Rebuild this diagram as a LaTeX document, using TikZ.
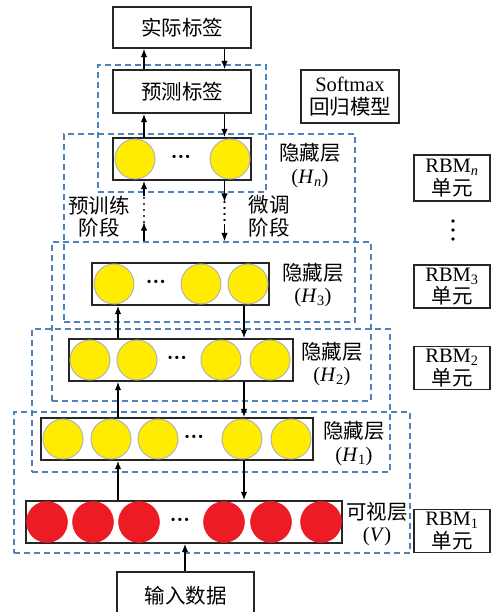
\documentclass[tikz,border=0pt]{standalone}
\usepackage{fontspec}
\setmainfont{Liberation Serif}
\newfontfamily\cjk{Noto Sans CJK SC}
\usetikzlibrary{arrows.meta}
\definecolor{dblue}{RGB}{79,129,189}
\definecolor{yel}{RGB}{255,236,0}
\definecolor{rd}{RGB}{237,28,36}
\begin{document}
\begin{tikzpicture}[x=1pt,y=-1pt,
  font=\fontsize{20.5}{22.5}\selectfont,
  box/.style={draw=black!85, line width=1.4pt, inner sep=0pt, align=center},
  dbox/.style={draw=dblue, line width=1.2pt, dash pattern=on 6pt off 4pt, inner sep=0pt},
  yc/.style={circle, fill=yel, draw=black!30, line width=1pt, minimum size=40pt, inner sep=0pt},
  rc/.style={circle, fill=rd, draw=rd, line width=0.5pt, minimum size=41pt, inner sep=0pt},
  dotsnode/.style={inner sep=0pt, font=\fontsize{20}{20}\selectfont\bfseries},
  arr/.style={line width=1.4pt, -{Latex[length=8.5pt,width=6.5pt]}},
  dotline/.style={line width=2.2pt, line cap=round, dash pattern=on 0.01pt off 6pt},
  lbl/.style={align=center, inner sep=0pt}]
\clip (0,0) rectangle (491,612);
% dashed groups
\node[dbox, minimum width=168pt, minimum height=127pt] (sm) at (182,128.5) {};
\node[dbox, minimum width=291pt, minimum height=188pt] (dn) at (209.5,228) {};
\node[dbox, minimum width=319pt, minimum height=159pt] (d3) at (211.5,321.5) {};
\node[dbox, minimum width=358pt, minimum height=143pt] (d2) at (211,400.5) {};
\node[dbox, minimum width=396pt, minimum height=141pt] (d1) at (212,482.5) {};
% top boxes
\node[box, minimum width=138pt, minimum height=41pt] (real) at (182,27.5) {\cjk 实际标签};
\node[box, minimum width=138pt, minimum height=43pt] (pred) at (182,91.5) {\cjk 预测标签};
\node[box, minimum width=137pt, minimum height=48pt] (inp) at (185.5,596) {\cjk 输入数据};
% layers
\node[box, minimum width=138pt, minimum height=42pt] (Hn) at (182,159) {};
\node[box, minimum width=177pt, minimum height=42pt] (H3) at (180.5,284) {};
\node[box, minimum width=224pt, minimum height=42pt] (H2) at (181,360) {};
\node[box, minimum width=272pt, minimum height=42pt] (H1) at (177,439) {};
\node[box, minimum width=316pt, minimum height=42pt] (V) at (184,522) {};
% neurons
\node[yc] (hn1) at (135,159) {};
\node[yc] (hn2) at (230,159) {};
\node[dotsnode] (hnd) at (181,159) {···};
\node[yc] (h31) at (114,284) {};
\node[yc] (h32) at (201,284) {};
\node[yc] (h33) at (248,284) {};
\node[dotsnode] (h3d) at (156,284) {···};
\node[yc] (h21) at (90,360) {};
\node[yc] (h22) at (137,360) {};
\node[yc] (h23) at (221,360) {};
\node[yc] (h24) at (270,360) {};
\node[dotsnode] (h2d) at (177,360) {···};
\node[yc] (h11) at (63,439) {};
\node[yc] (h12) at (111,439) {};
\node[yc] (h13) at (158,439) {};
\node[yc] (h14) at (242,439) {};
\node[yc] (h15) at (291,439) {};
\node[dotsnode] (h1d) at (194,439) {···};
\node[rc] (v1) at (47,522) {};
\node[rc] (v2) at (93,522) {};
\node[rc] (v3) at (139,522) {};
\node[rc] (v4) at (224,522) {};
\node[rc] (v5) at (271,522) {};
\node[rc] (v6) at (321,522) {};
\node[dotsnode] (vd) at (180,522) {···};
% labels
\node[lbl] (lhn) at (310,165.5) {{\cjk 隐藏层}\\(\textit{H}\textsubscript{\textit{n}})};
\node[lbl] (lh3) at (313,285) {{\cjk 隐藏层}\\(\textit{H}\textsubscript{3})};
\node[lbl] (lh2) at (332,364) {{\cjk 隐藏层}\\(\textit{H}\textsubscript{2})};
\node[lbl] (lh1) at (354,443.5) {{\cjk 隐藏层}\\(\textit{H}\textsubscript{1})};
\node[lbl] (lv) at (377,524) {{\cjk 可视层}\\(\textit{V})};
\node[lbl] (lpre) at (99,216.5) {\cjk 预训练\\\cjk 阶段};
\node[lbl] (lft) at (269,216.5) {\cjk 微调\\\cjk 阶段};
% right side boxes
\node[box, minimum width=98pt, minimum height=53pt] (soft) at (350,96.5) {Softmax\\{\cjk 回归模型}};
\node[box, minimum width=76pt, minimum height=46pt] (rbmn) at (452,178) {RBM\textsubscript{\textit{n}}\\{\cjk 单元}};
\node[box, minimum width=76pt, minimum height=43pt] (rbm3) at (452,286.5) {RBM\textsubscript{3}\\{\cjk 单元}};
\node[box, minimum width=76pt, minimum height=43pt] (rbm2) at (452,368) {RBM\textsubscript{2}\\{\cjk 单元}};
\node[box, minimum width=76pt, minimum height=43pt] (rbm1) at (452,531) {RBM\textsubscript{1}\\{\cjk 单元}};
\fill (453,221) circle (1.8pt) (453,230) circle (1.8pt) (453,239) circle (1.8pt);
% arrows
\coordinate (xa) at (144,0);
\coordinate (xb) at (224.5,0);
\coordinate (xc) at (118,0);
\coordinate (xd) at (244,0);
\coordinate (xe) at (185,0);
\coordinate (pa1) at (144,222);
\coordinate (pa2) at (144,196);
\coordinate (pb1) at (224.5,202);
\coordinate (pb2) at (224.5,224);
\draw[arr] (xe |- inp.north) -- (xe |- V.south);
\draw[arr] (xc |- V.north) -- (xc |- H1.south);
\draw[arr] (xd |- H1.south) -- (xd |- V.north);
\draw[arr] (xc |- H1.north) -- (xc |- H2.south);
\draw[arr] (xd |- H2.south) -- (xd |- H1.north);
\draw[arr] (xc |- H2.north) -- (xc |- H3.south);
\draw[arr] (xd |- H3.south) -- (xd |- H2.north);
\draw[arr] (xa |- d3.north) -- (pa1);
\draw[dotline] (pa1) -- (pa2);
\draw[arr] (pa2) -- (xa |- Hn.south);
\draw[arr] (xb |- Hn.south) -- (pb1);
\draw[dotline] (pb1) -- (pb2);
\draw[arr] (pb2) -- (xb |- d3.north);
\draw[arr] (xa |- Hn.north) -- (xa |- pred.south);
\draw[arr] (xb |- pred.south) -- (xb |- Hn.north);
\draw[arr] (xa |- pred.north) -- (xa |- real.south);
\draw[arr] (xb |- real.south) -- (xb |- pred.north);
\end{tikzpicture}
\end{document}
